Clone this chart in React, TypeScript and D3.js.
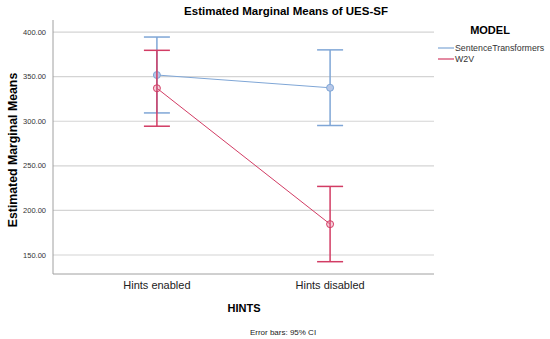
import React, { useEffect, useRef } from 'react';
import * as d3 from 'd3';

const hints = ['Hints enabled', 'Hints disabled'];
const models = ['SentenceTransformers', 'W2V'];
const stMeans = [351.8, 337.5];
const stLower = [309.3, 295.2];
const stUpper = [394.4, 380.0];
const w2vMeans = [337.0, 184.6];
const w2vLower = [294.4, 142.5];
const w2vUpper = [379.5, 226.9];
const yTicks = [150, 200, 250, 300, 350, 400];

const colors = ['#7fa6d6', '#d23c64'];

const App = () => {
  const svgRef = useRef(null);

  useEffect(() => {
    document.body.style.margin = '0';
    const width = 550;
    const height = 339;
    const margin = { top: 20, right: 116, bottom: 65, left: 53 };

    d3.select(svgRef.current).selectAll('*').remove();
    const svg = d3.select(svgRef.current)
      .attr('width', width)
      .attr('height', height)
      .style('display', 'block')
      .style('font-family', 'Liberation Sans, Arial, sans-serif');

    const xScale = d3.scalePoint()
      .domain(hints)
      .range([margin.left, width - margin.right])
      .padding(0.6);

    const yScale = d3.scaleLinear()
      .domain([128.7, 413.5])
      .range([height - margin.bottom, margin.top]);

    // gridlines
    svg.append('g')
      .selectAll('line')
      .data(yTicks)
      .enter()
      .append('line')
      .attr('x1', margin.left)
      .attr('x2', width - margin.right)
      .attr('y1', d => yScale(d))
      .attr('y2', d => yScale(d))
      .attr('stroke', '#d4d4d4')
      .attr('stroke-width', 1.2);

    // axes lines
    svg.append('line')
      .attr('x1', margin.left).attr('x2', margin.left)
      .attr('y1', margin.top).attr('y2', height - margin.bottom)
      .attr('stroke', '#a0a0a0');
    svg.append('line')
      .attr('x1', margin.left).attr('x2', width - margin.right)
      .attr('y1', height - margin.bottom).attr('y2', height - margin.bottom)
      .attr('stroke', '#a0a0a0');

    // y tick labels
    svg.append('g')
      .selectAll('text')
      .data(yTicks)
      .enter()
      .append('text')
      .attr('x', 46)
      .attr('y', d => yScale(d) + 2.5)
      .attr('text-anchor', 'end')
      .style('font-size', '7.5px')
      .attr('fill', '#333')
      .text(d => d.toFixed(2));

    // x tick labels
    svg.append('g')
      .selectAll('text')
      .data(hints)
      .enter()
      .append('text')
      .attr('x', d => xScale(d)!)
      .attr('y', 289)
      .attr('text-anchor', 'middle')
      .style('font-size', '11px')
      .attr('fill', '#222')
      .text(d => d);

    // titles
    svg.append('text')
      .attr('x', 286)
      .attr('y', 15)
      .attr('text-anchor', 'middle')
      .style('font-size', '11.5px')
      .style('font-weight', 'bold')
      .text('Estimated Marginal Means of UES-SF');

    svg.append('text')
      .attr('transform', `translate(17, 150) rotate(-90)`)
      .attr('text-anchor', 'middle')
      .style('font-size', '12.3px')
      .style('font-weight', 'bold')
      .text('Estimated Marginal Means');

    svg.append('text')
      .attr('x', 244)
      .attr('y', 312)
      .attr('text-anchor', 'middle')
      .style('font-size', '11px')
      .style('font-weight', 'bold')
      .text('HINTS');

    svg.append('text')
      .attr('x', 283)
      .attr('y', 335)
      .attr('text-anchor', 'middle')
      .style('font-size', '8px')
      .attr('fill', '#222')
      .text('Error bars: 95% CI');

    const series = [
      { means: stMeans, lower: stLower, upper: stUpper },
      { means: w2vMeans, lower: w2vLower, upper: w2vUpper }
    ];

    const line = d3.line<number>()
      .x((_, i) => xScale(hints[i])!)
      .y(d => yScale(d));

    series.forEach((s, si) => {
      const g = svg.append('g');
      // error bars
      hints.forEach((h, i) => {
        const x = xScale(h)!;
        g.append('line')
          .attr('x1', x).attr('x2', x)
          .attr('y1', yScale(s.lower[i])).attr('y2', yScale(s.upper[i]))
          .attr('stroke', colors[si]).attr('stroke-width', 1.5);
        [s.lower[i], s.upper[i]].forEach(v => {
          g.append('line')
            .attr('x1', x - 13).attr('x2', x + 13)
            .attr('y1', yScale(v)).attr('y2', yScale(v))
            .attr('stroke', colors[si]).attr('stroke-width', 1.5);
        });
      });
      g.append('path')
        .datum(s.means)
        .attr('d', line)
        .attr('fill', 'none')
        .attr('stroke', colors[si])
        .attr('stroke-width', 1);
      g.selectAll('circle')
        .data(s.means)
        .enter()
        .append('circle')
        .attr('cx', (_, i) => xScale(hints[i])!)
        .attr('cy', d => yScale(d))
        .attr('r', 3.5)
        .attr('fill', si === 0 ? '#b8c8e8' : 'rgba(230,120,150,0.35)')
        .attr('stroke', colors[si])
        .attr('stroke-width', 1);
    });

    // legend
    svg.append('text')
      .attr('x', 490)
      .attr('y', 34)
      .attr('text-anchor', 'middle')
      .style('font-size', '11px')
      .style('font-weight', 'bold')
      .text('MODEL');

    models.forEach((m, i) => {
      const y = 48 + i * 11;
      svg.append('line')
        .attr('x1', 438).attr('x2', 454)
        .attr('y1', y).attr('y2', y)
        .attr('stroke', colors[i]).attr('stroke-width', 1.2);
      svg.append('text')
        .attr('x', 455)
        .attr('y', y + 3)
        .style('font-size', '8.8px')
        .attr('fill', '#333')
        .text(m);
    });
  }, []);

  return (
    <div>
      <svg ref={svgRef}></svg>
    </div>
  );
};

export default App;
